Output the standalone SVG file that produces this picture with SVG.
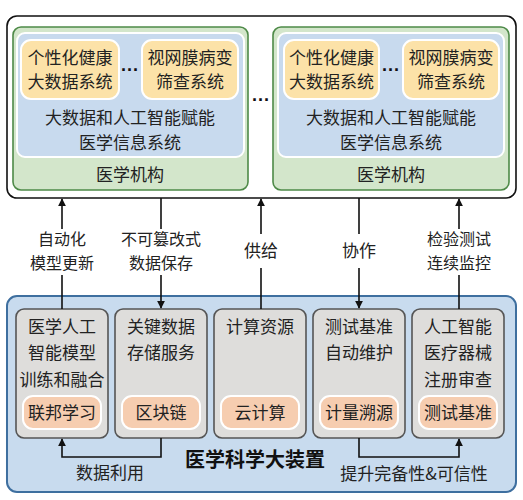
<svg xmlns="http://www.w3.org/2000/svg" width="523" height="500" viewBox="0 0 523 500">
<defs>
<marker id="ah" viewBox="0 0 10 10" refX="9" refY="5" markerWidth="8" markerHeight="8" markerUnits="userSpaceOnUse" orient="auto">
<path d="M0,0 L10,5 L0,10 z" fill="#111"/>
</marker>
</defs>
<style>
text{font-family:"Noto Sans CJK SC","Noto Sans",sans-serif;font-size:17px;fill:#222;text-anchor:middle}
.title{font-size:20px;font-weight:bold;fill:#111}
.lbl{font-size:16px}
.outer{fill:#fff;stroke:#111;stroke-width:1.6}
.green{fill:#d3e6cb;stroke:#4e8a48;stroke-width:1.6}
.blue{fill:#c8daee;stroke:#fff;stroke-width:2}
.yellow{fill:#fce2a8;stroke:#fff;stroke-width:2}
.base{fill:#c8dbee;stroke:#3e6f9f;stroke-width:2}
.gray{fill:#dedddb;stroke:#555;stroke-width:1.6}
.orange{fill:#f6cdb0;stroke:#fff;stroke-width:2}
.ln{fill:none;stroke:#111;stroke-width:1.6}
text.dots{font-family:"Liberation Sans",sans-serif;font-size:18px;font-weight:bold;fill:#111}
</style>
<g id="top">
<rect class="outer" x="7" y="16" width="509" height="182" rx="10"/>
</g>
<g id="inst-left">
<rect class="green" x="13" y="27" width="235" height="163" rx="8"/>
<rect class="blue" x="17" y="33" width="227" height="124" rx="8"/>
<g id="sys-l1"><rect class="yellow" x="21" y="40" width="98" height="59" rx="10"/>
<text x="70" y="64">个性化健康</text><text x="70" y="88">大数据系统</text></g>
<text class="dots" x="130" y="76">···</text>
<g id="sys-l2"><rect class="yellow" x="142" y="40" width="96" height="59" rx="10"/>
<text x="190" y="64">视网膜病变</text><text x="190" y="88">筛查系统</text></g>
<text x="130" y="124">大数据和人工智能赋能</text>
<text x="130" y="149">医学信息系统</text>
<text x="130" y="181">医学机构</text>
</g>
<text class="dots" x="261" y="106">···</text>
<g id="inst-right">
<rect class="green" x="273" y="27" width="236" height="163" rx="8"/>
<rect class="blue" x="278" y="33" width="226" height="124" rx="8"/>
<g id="sys-r1"><rect class="yellow" x="284" y="40" width="95" height="59" rx="10"/>
<text x="331.5" y="64">个性化健康</text><text x="331.5" y="88">大数据系统</text></g>
<text class="dots" x="391" y="76">···</text>
<g id="sys-r2"><rect class="yellow" x="403" y="40" width="96" height="59" rx="10"/>
<text x="451" y="64">视网膜病变</text><text x="451" y="88">筛查系统</text></g>
<text x="391" y="124">大数据和人工智能赋能</text>
<text x="391" y="149">医学信息系统</text>
<text x="391" y="181">医学机构</text>
</g>
<g id="facility">
<rect class="base" x="7" y="296" width="509" height="196" rx="10"/>
<text class="title" x="255" y="467">医学科学大装置</text>
</g>
<g id="n1">
<rect class="gray" x="16" y="309" width="92" height="129" rx="8"/>
<text x="62" y="333">医学人工</text><text x="62" y="359">智能模型</text><text x="62" y="386">训练和融合</text>
<rect class="orange" x="23" y="396" width="78" height="33" rx="10"/><text x="62" y="419">联邦学习</text>
</g>
<g id="n2">
<rect class="gray" x="115" y="309" width="92" height="129" rx="8"/>
<text x="161" y="333">关键数据</text><text x="161" y="359">存储服务</text>
<rect class="orange" x="122" y="396" width="78" height="33" rx="10"/><text x="161" y="419">区块链</text>
</g>
<g id="n3">
<rect class="gray" x="214" y="309" width="92" height="129" rx="8"/>
<text x="260" y="333">计算资源</text>
<rect class="orange" x="221" y="396" width="78" height="33" rx="10"/><text x="260" y="419">云计算</text>
</g>
<g id="n4">
<rect class="gray" x="313" y="309" width="92" height="129" rx="8"/>
<text x="359" y="333">测试基准</text><text x="359" y="359">自动维护</text>
<rect class="orange" x="320" y="396" width="78" height="33" rx="10"/><text x="359" y="419">计量溯源</text>
</g>
<g id="n5">
<rect class="gray" x="412" y="309" width="92" height="129" rx="8"/>
<text x="458" y="333">人工智能</text><text x="458" y="359">医疗器械</text><text x="458" y="386">注册审查</text>
<rect class="orange" x="419" y="396" width="78" height="33" rx="10"/><text x="458" y="419">测试基准</text>
</g>
<g id="connectors">
<path class="ln" d="M62,309 V275 M62,229 V199" marker-end="url(#ah)"/>
<text class="lbl" x="62" y="245">自动化</text><text class="lbl" x="62" y="269">模型更新</text>
<path class="ln" d="M161,198 V229 M161,275 V308" marker-end="url(#ah)"/>
<text class="lbl" x="161" y="245">不可篡改式</text><text class="lbl" x="161" y="269">数据保存</text>
<path class="ln" d="M261,309 V268 M261,234 V199" marker-end="url(#ah)"/>
<text x="261" y="257">供给</text>
<path class="ln" d="M359,198 V234 M359,268 V308" marker-end="url(#ah)"/>
<text x="359" y="257">协作</text>
<path class="ln" d="M459,309 V275 M459,229 V199" marker-end="url(#ah)"/>
<text class="lbl" x="459" y="245">检验测试</text><text class="lbl" x="459" y="269">连续监控</text>
<path class="ln" d="M161,438 V457 H62 V439" marker-end="url(#ah)"/>
<text x="110" y="479">数据利用</text>
<path class="ln" d="M359,438 V457 H459 V439" marker-end="url(#ah)"/>
<text x="414" y="480">提升完备性&amp;可信性</text>
</g>
</svg>
